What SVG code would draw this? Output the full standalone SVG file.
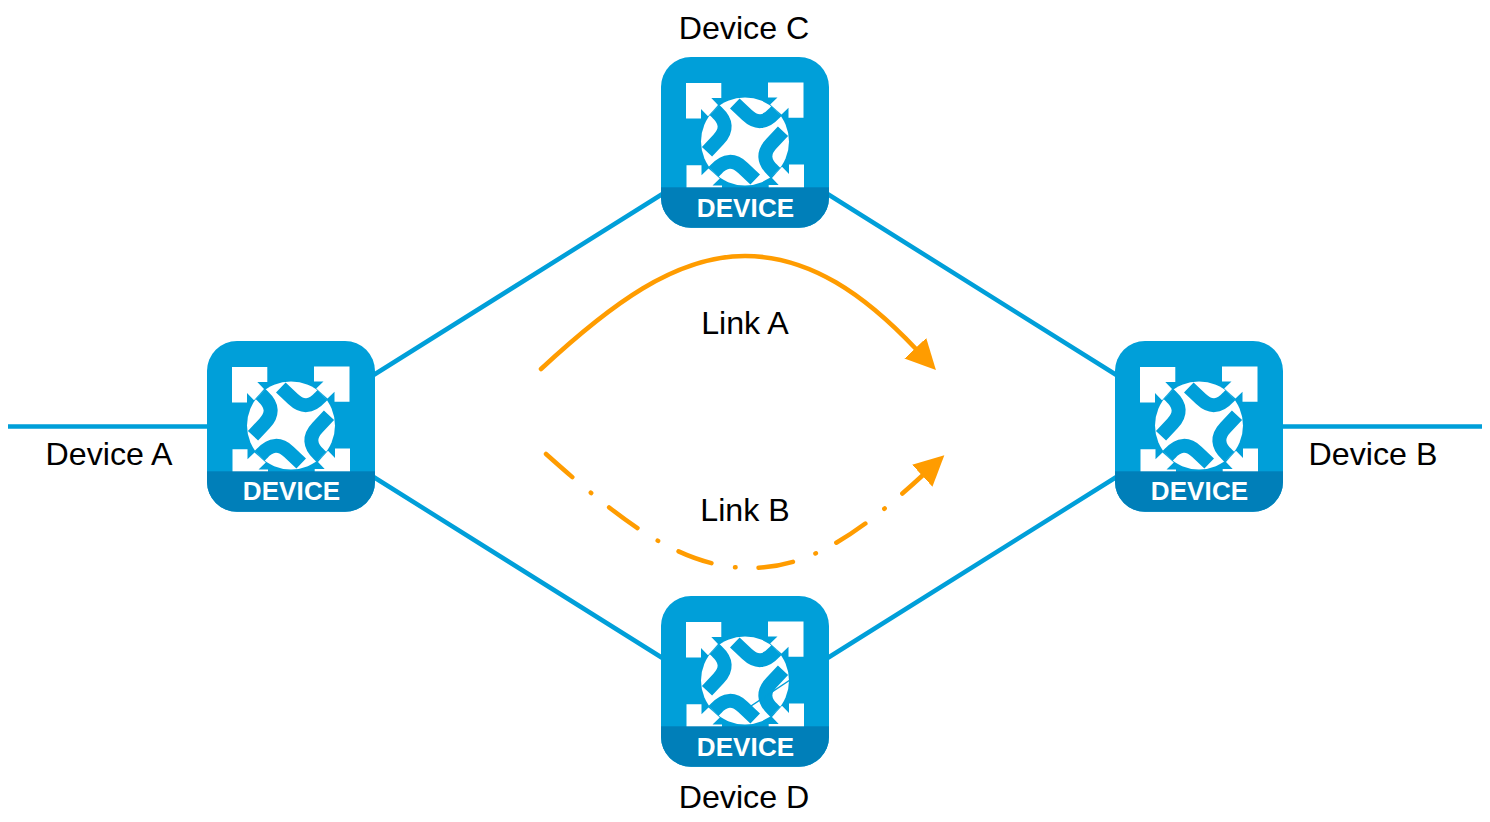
<svg xmlns="http://www.w3.org/2000/svg" xmlns:xlink="http://www.w3.org/1999/xlink" width="1490" height="822" viewBox="0 0 1490 822">
<style>
text{font-family:"Liberation Sans",Arial,sans-serif;fill:#000;font-size:32.2px;text-anchor:middle}
text.dev{font-size:26px;font-weight:700;fill:#fff;letter-spacing:.1px}
.link{fill:none;stroke:#009fd9;stroke-width:4.5}
.flow{fill:none;stroke:#ff9c00;stroke-width:4.5;stroke-linecap:round}
.s{fill:none;stroke:#009fd9;stroke-width:14}
</style>
<defs>
<clipPath id="b"><rect x="0" y="0" width="168" height="170.700" rx="30"/></clipPath>
<marker id="ah" markerUnits="userSpaceOnUse" markerWidth="32" markerHeight="32" refX="1" refY="15" orient="auto"><path d="M0 0L30 15L0 30Z" fill="#ff9c00"/></marker>
<g id="q">
<path d="M25 26H60.300V41H50.300L57 48L47 59.300L40 52V61.500H25Z" fill="#fff"/>
<path class="s" d="M73.800 46.500L86 58Q99.700 71 113 56.500L115.500 54"/>
</g>
<g id="icon">
<rect width="168" height="170.700" rx="30" fill="#009fd9"/>
<circle cx="84" cy="84.500" r="44" fill="#fff"/>
<use xlink:href="#q"/>
<use xlink:href="#q" transform="rotate(90 84 84.500)"/>
<use xlink:href="#q" transform="rotate(180 84 84.500)"/>
<use xlink:href="#q" transform="rotate(270 84 84.500)"/>
<rect y="130.300" width="168" height="41" fill="#007fb9" clip-path="url(#b)"/>
</g>
</defs>
<g id="connectors">
<path class="link" d="M8 426.500H210M372 376L664 193M372 476L664 659M826 193L1118 376M826 659L1118 476M1280 426.500H1482"/>
<path class="flow" d="M541 369C610 305 675 256 745 256C810 256 865 295 916 349" marker-end="url(#ah)"/>
<path class="flow" d="M546 454C620 520 680 568 750 568C810 568 860 533 923 475" stroke-dasharray="35 24 0.500 23" marker-end="url(#ah)"/>
</g>
<g id="device-a"><use xlink:href="#icon" x="207" y="341"/><text class="dev" x="291.500" y="500">DEVICE</text><text x="109" y="464.500">Device A</text></g>
<g id="device-b"><use xlink:href="#icon" x="1115" y="341"/><text class="dev" x="1199.500" y="500">DEVICE</text><text x="1373" y="464.500">Device B</text></g>
<g id="device-c"><use xlink:href="#icon" x="661" y="57"/><text class="dev" x="745.500" y="217">DEVICE</text><text x="744" y="38.500">Device C</text></g>
<g id="device-d"><use xlink:href="#icon" x="661" y="596"/><path d="M751 706L790 680" stroke="#009fd9" stroke-width="1.500" fill="none"/><text class="dev" x="745.500" y="756">DEVICE</text><text x="744" y="807.500">Device D</text></g>
<g id="labels"><text x="745" y="333.500">Link A</text><text x="745" y="520.500">Link B</text></g>
</svg>
